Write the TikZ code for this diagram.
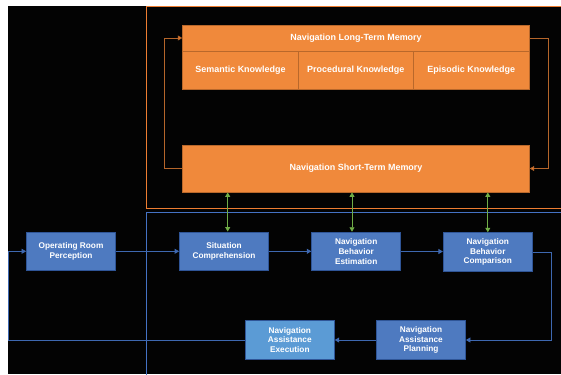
\documentclass[tikz,border=0pt]{standalone}
\usepackage{fontspec}
\setmainfont{Liberation Sans}
\usetikzlibrary{arrows.meta}
\definecolor{memfill}{HTML}{F0893B}
\definecolor{memline}{HTML}{B9682B}
\definecolor{frameorange}{HTML}{ED7D31}
\definecolor{loopbrown}{HTML}{B5652A}
\definecolor{boxfill}{HTML}{4E7AC0}
\definecolor{boxline}{HTML}{2F5597}
\definecolor{execfill}{HTML}{5B9BD5}
\definecolor{flowblue}{HTML}{3E68B0}
\definecolor{framblue}{HTML}{4472C4}
\definecolor{linkgreen}{HTML}{70AD47}

\begin{document}
\begin{tikzpicture}[x=1bp, y=-1bp,
	mem/.style={draw=memline, fill=memfill, line width=0.8bp, inner sep=0pt, text=white, font=\fontsize{9}{10}\selectfont\bfseries},
	box/.style={draw=boxline, fill=boxfill, line width=0.8bp, inner sep=0pt, minimum width=89bp, minimum height=38.7bp, align=center, text=white, font=\fontsize{8.3}{9.8}\selectfont\bfseries},
	flow/.style={draw=flowblue, line width=0.8bp, -{Triangle[length=4.5bp, width=5bp]}},
	memloop/.style={draw=loopbrown, line width=0.8bp, -{Triangle[length=4.5bp, width=5bp, fill=frameorange]}},
	link/.style={draw=linkgreen, line width=0.8bp, {Triangle[length=4.5bp, width=5bp]}-{Triangle[length=4.5bp, width=5bp]}}]
	\clip (0,0) rectangle (561,374);
	\fill[white] (0,0) rectangle (561,374);
	\fill[black!99] (8,6) rectangle (561,374);
	\draw[frameorange, line width=0.9bp] (146.5,6.5) rectangle (570,208);
	\draw[framblue, line width=0.9bp] (146.5,212) rectangle (570,380);
	\node[mem, minimum width=346.6bp, minimum height=26bp] (ltm) at (356,38) {Navigation Long-Term Memory};
	\node[mem, minimum width=115.6bp, minimum height=38.7bp] (sem) at (240.5,70.35) {Semantic Knowledge};
	\node[mem, minimum width=115bp, minimum height=38.7bp] (proc) at (355.8,70.35) {Procedural Knowledge};
	\node[mem, minimum width=116bp, minimum height=38.7bp] (epi) at (471.3,70.35) {Episodic Knowledge};
	\node[mem, minimum width=346.6bp, minimum height=47bp] (stm) at (356,168.5) {Navigation Short-Term Memory};
	\node[box] (orp) at (71,251.3) {Operating Room\\Perception};
	\node[box] (sc) at (224,251.3) {Situation\\Comprehension};
	\node[box] (nbe) at (356.2,251.5) {Navigation\\Behavior\\Estimation};
	\node[box] (nbc) at (487.8,252) {Navigation\\Behavior\\Comparison};
	\node[box] (nap) at (421,340) {Navigation\\Assistance\\Planning};
	\node[box, fill=execfill] (nae) at (289.8,340) {Navigation\\Assistance\\Execution};
	\draw[memloop] (stm.west) -- ++(-17.7,0) |- (ltm.west);
	\draw[memloop] (ltm.east) -- ++(18.4,0) |- (stm.east);
	\draw[link] ([xshift=3.7bp]sc.north |- stm.south) -- ([xshift=3.7bp]sc.north);
	\draw[link] ([xshift=-4.2bp]nbe.north |- stm.south) -- ([xshift=-4.2bp]nbe.north);
	\draw[link] (nbc.north |- stm.south) -- (nbc.north);
	\draw[flow] (orp.east) -- (sc.west);
	\draw[flow] (sc.east) -- (sc.east -| nbe.west);
	\draw[flow] (nbe.east) -- (nbe.east -| nbc.west);
	\draw[flow] (nbc.east) -- ++(18.7,0) |- (nap.east);
	\draw[flow] (nap.west) -- (nae.east);
	\draw[flow] (nae.west) -| ([xshift=-18bp]orp.west) -- (orp.west);
\end{tikzpicture}
\end{document}
